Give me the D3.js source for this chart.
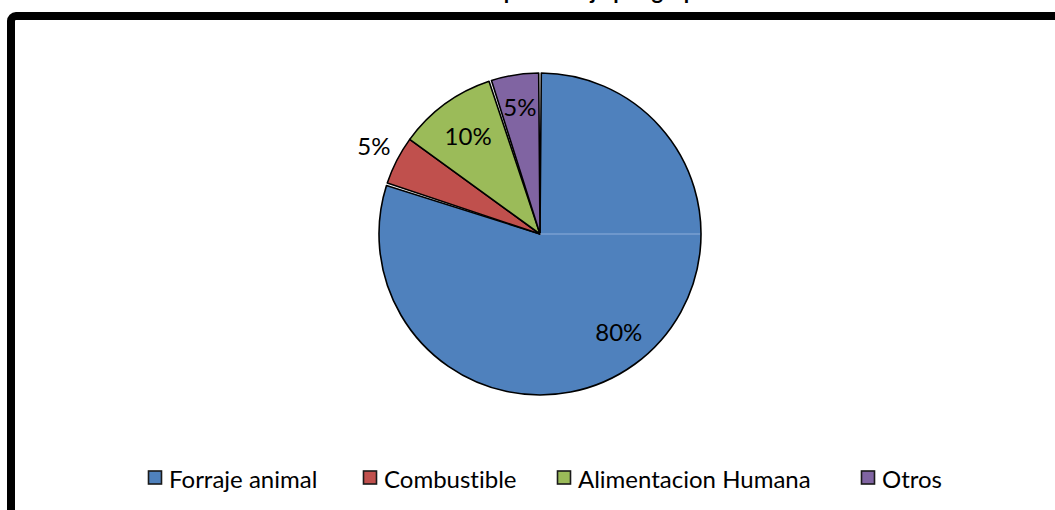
<!DOCTYPE html>
<html>
<head>
<meta charset="utf-8">
<script src="https://cdn.jsdelivr.net/npm/d3@7"></script>
<style>
  html, body { margin: 0; padding: 0; background: #fff; overflow: hidden; }
  svg { display: block; }
  text { font-family: Lato, "Open Sans", sans-serif; fill: #000; font-variant-ligatures: none; font-feature-settings: "liga" 0, "clig" 0; }
</style>
</head>
<body>
<svg id="chart" width="1055" height="510"></svg>
<script>
// Uses of the crop, share of total
const categories = ["Forraje animal", "Combustible", "Alimentacion Humana", "Otros"];
const values = [80, 5, 10, 5];
const labels = ["80%", "5%", "10%", "5%"];
const colors = ["#4F81BD", "#C0504D", "#9BBB59", "#8064A2"];
const title = "Usos en porcentaje por grupo";

const svg = d3.select("#chart");

// Chart frame (thick rounded border running past the window)
svg.append("rect")
  .attr("x", 11).attr("y", 16)
  .attr("width", 1100).attr("height", 540)
  .attr("rx", 5)
  .attr("fill", "#fff")
  .attr("stroke", "#000")
  .attr("stroke-width", 8);

// Title, sitting above the top edge
svg.append("text")
  .attr("x", 565).attr("y", -1)
  .attr("text-anchor", "middle")
  .style("font-weight", "bold")
  .style("font-size", "22px")
  .text(title);

const cx = 540, cy = 234, R = 161;
const g = svg.append("g").attr("transform", `translate(${cx},${cy})`);

const pie = d3.pie().sort(null).value(d => d)(values);

// thin gaps between some neighbouring slices
const gap = 1.3 / R;
const trims = [[gap, gap], [gap, 0], [0, gap], [gap, gap]];
const arcs = pie.map((p, i) => ({
  startAngle: p.startAngle + trims[i][0],
  endAngle: p.endAngle - trims[i][1],
  index: i
}));

const arc = d3.arc().innerRadius(0).outerRadius(R);

g.selectAll("path.slice")
  .data(arcs)
  .join("path")
  .attr("class", "slice")
  .attr("d", arc)
  .attr("fill", d => colors[d.index])
  .attr("stroke", "#000")
  .attr("stroke-width", 1.6)
  .attr("stroke-linejoin", "round");

// faint seam inside the large slice
const seam = Math.PI / 2;
g.append("line")
  .attr("x1", 0).attr("y1", 0)
  .attr("x2", (R - 1) * Math.sin(seam))
  .attr("y2", -(R - 1) * Math.cos(seam))
  .attr("stroke", "#8FAEDB")
  .attr("stroke-width", 1);

// data labels (radius factor per slice, small angular nudge)
const labelRadius = [0.78, 1.17, 0.76, 0.8];
const labelShift = [-0.05, 0.02, 0, 0];
const fontSize = 24;
g.selectAll("text.lbl")
  .data(pie)
  .join("text")
  .attr("class", "lbl")
  .attr("text-anchor", "middle")
  .attr("dominant-baseline", "central")
  .style("font-size", fontSize + "px")
  .attr("transform", (d, i) => {
    const r = R * labelRadius[i];
    const a = (d.startAngle + d.endAngle) / 2 + labelShift[i];
    return `translate(${r * Math.sin(a)},${-r * Math.cos(a)})`;
  })
  .text((d, i) => labels[i]);

// legend
const legendX = [148, 363, 557, 861];
const legendY = 478;
const items = svg.append("g").selectAll("g.item")
  .data(categories)
  .join("g")
  .attr("class", "item")
  .attr("transform", (d, i) => `translate(${legendX[i]},${legendY})`);
items.append("rect")
  .attr("x", 0.5).attr("y", -7)
  .attr("width", 13).attr("height", 13)
  .attr("fill", (d, i) => colors[i])
  .attr("stroke", "#1a1a1a")
  .attr("stroke-width", 1.6);
items.append("text")
  .attr("x", 21).attr("y", 0)
  .attr("dominant-baseline", "central")
  .style("font-size", fontSize + "px")
  .text(d => d);
</script>
</body>
</html>
